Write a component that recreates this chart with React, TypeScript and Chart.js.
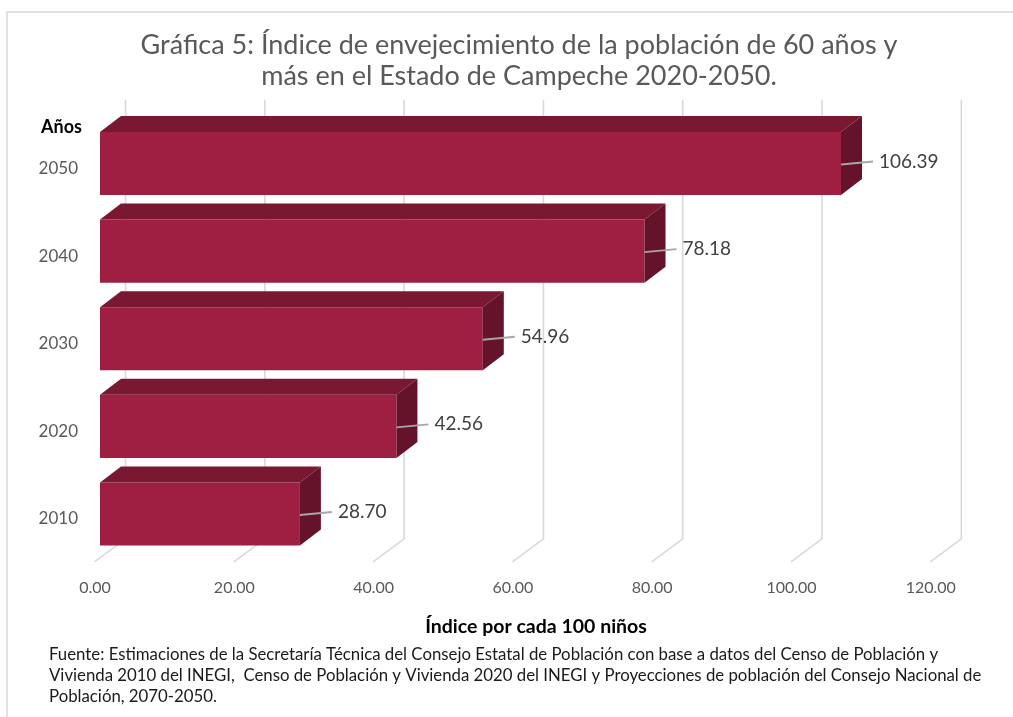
import { useEffect, useRef } from "react";
import { Chart, registerables } from "chart.js";

Chart.register(...registerables);

// ---- data ----
const years = ["2010", "2020", "2030", "2040", "2050"];
const indexValues = [28.7, 42.56, 54.96, 78.18, 106.39];
const xTickValues = [0, 20, 40, 60, 80, 100, 120];
const titleLines = [
  "Gráfica 5: Índice de envejecimiento de la población de 60 años y",
  "más en el Estado de Campeche 2020-2050.",
];
const yAxisTitle = "Años";
const xAxisTitle = "Índice por cada 100 niños";
const sourceLines = [
  "Fuente: Estimaciones de la Secretaría Técnica del Consejo Estatal de Población con base a datos del Censo de Población y",
  "Vivienda 2010 del INEGI,  Censo de Población y Vivienda 2020 del INEGI y Proyecciones de población del Consejo Nacional de",
  "Población, 2070-2050.",
];

// ---- style ----
const FONT = "Lato, 'Open Sans', sans-serif";
const FRONT = "#9E1F42";
const TOP = "#7A1831";
const SIDE = "#64132A";
const GRID = "#d9d9d9";
const BAR_DX = 21;
const BAR_DY = 16;

const threeDPlugin = {
  id: "threeD",
  beforeDraw(chart: any) {
    const { ctx, width, height } = chart;
    ctx.save();
    ctx.fillStyle = "#ffffff";
    ctx.fillRect(0, 0, width, height);
    ctx.strokeStyle = "#d9d9d9";
    ctx.lineWidth = 1.5;
    ctx.strokeRect(7, 12, width + 20, height + 20);
    ctx.restore();
  },
  beforeDatasetsDraw(chart: any) {
    const { ctx, chartArea } = chart;
    const xs = chart.scales.x;
    ctx.save();
    ctx.strokeStyle = GRID;
    ctx.lineWidth = 1.6;
    xTickValues.forEach((v) => {
      const xb = xs.getPixelForValue(v) + 25.5;
      ctx.beginPath();
      ctx.moveTo(xb, chartArea.top - 20);
      ctx.lineTo(xb, chartArea.bottom - 19);
      ctx.lineTo(xb - 31, chartArea.bottom + 4);
      ctx.stroke();
    });
    ctx.restore();
  },
  afterDatasetsDraw(chart: any) {
    const { ctx } = chart;
    const meta = chart.getDatasetMeta(0);
    ctx.save();
    meta.data.forEach((bar: any, i: number) => {
      const { x, y, base, height } = bar.getProps(["x", "y", "base", "height"], true);
      const top = y - height / 2;
      const bottom = y + height / 2;
      // top face
      ctx.fillStyle = TOP;
      ctx.beginPath();
      ctx.moveTo(base, top);
      ctx.lineTo(base + BAR_DX, top - BAR_DY);
      ctx.lineTo(x + BAR_DX, top - BAR_DY);
      ctx.lineTo(x, top);
      ctx.closePath();
      ctx.fill();
      // side face
      ctx.fillStyle = SIDE;
      ctx.beginPath();
      ctx.moveTo(x, top);
      ctx.lineTo(x + BAR_DX, top - BAR_DY);
      ctx.lineTo(x + BAR_DX, bottom - BAR_DY);
      ctx.lineTo(x, bottom);
      ctx.closePath();
      ctx.fill();
      // leader line
      ctx.strokeStyle = "#a6a6a6";
      ctx.lineWidth = 1.8;
      ctx.beginPath();
      ctx.moveTo(x, y + 1);
      ctx.lineTo(x + 32, y - 2);
      ctx.stroke();
      // value label
      ctx.fillStyle = "#404040";
      ctx.font = `19px ${FONT}`;
      ctx.textAlign = "left";
      ctx.textBaseline = "middle";
      ctx.fillText(indexValues[i].toFixed(2), x + 38, y - 2);
    });
    ctx.restore();
  },
  afterDraw(chart: any) {
    const { ctx } = chart;
    ctx.save();
    // title
    ctx.fillStyle = "#595959";
    ctx.font = `27px ${FONT}`;
    ctx.textAlign = "center";
    ctx.textBaseline = "middle";
    ctx.fillText(titleLines[0], 519, 45);
    ctx.fillText(titleLines[1], 519, 76);
    // axis titles
    ctx.fillStyle = "#000000";
    ctx.font = `bold 18px ${FONT}`;
    ctx.textAlign = "left";
    ctx.fillText(yAxisTitle, 41, 127);
    ctx.font = `bold 19.5px ${FONT}`;
    ctx.textAlign = "center";
    ctx.fillText(xAxisTitle, 536, 627);
    // source
    ctx.fillStyle = "#1a1a1a";
    ctx.font = `16.8px ${FONT}`;
    ctx.textAlign = "left";
    sourceLines.forEach((line, i) => {
      ctx.fillText(line, 49, 655 + i * 21);
    });
    ctx.restore();
  },
};

export default function App() {
  const canvasRef = useRef<HTMLCanvasElement | null>(null);

  useEffect(() => {
    if (!canvasRef.current) return;
    const chart = new Chart(canvasRef.current, {
      type: "bar",
      data: {
        labels: years,
        datasets: [
          {
            data: indexValues,
            backgroundColor: FRONT,
            borderWidth: 0,
            barPercentage: 0.72,
            categoryPercentage: 1,
          },
        ],
      },
      options: {
        indexAxis: "y",
        animation: false,
        responsive: true,
        maintainAspectRatio: false,
        layout: { padding: { top: 119.7, bottom: 99.2, left: 10, right: 77.2 } },
        plugins: {
          legend: { display: false },
          tooltip: { enabled: false },
          title: { display: false },
        },
        scales: {
          x: {
            min: 0,
            max: 120,
            ticks: {
              stepSize: 20,
              callback: (v: any) => Number(v).toFixed(2),
              labelOffset: -5,
              padding: 20,
              color: "#595959",
              font: { family: FONT, size: 16 },
              maxRotation: 0,
            },
            grid: { display: false, drawTicks: false },
            border: { display: false },
            afterFit: (s: any) => {
              s.height = 60;
            },
          },
          y: {
            reverse: true,
            ticks: {
              labelOffset: 5,
              padding: 22,
              color: "#595959",
              font: { family: FONT, size: 17 },
            },
            grid: { display: false, drawTicks: false },
            border: { display: false },
            afterFit: (s: any) => {
              s.width = 90;
            },
          },
        },
      },
      plugins: [threeDPlugin],
    });
    return () => chart.destroy();
  }, []);

  return (
    <div
      style={{
        position: "fixed",
        left: 0,
        top: 0,
        width: 1013,
        height: 717,
        overflow: "hidden",
        background: "#fff",
      }}
    >
      <canvas ref={canvasRef} />
    </div>
  );
}
